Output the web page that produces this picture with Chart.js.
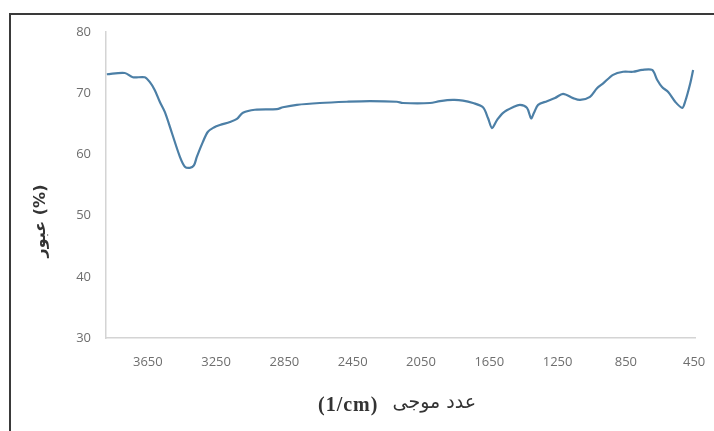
<!DOCTYPE html>
<html>
<head>
<meta charset="utf-8">
<script src="https://cdn.jsdelivr.net/npm/chart.js@4/dist/chart.umd.min.js"></script>
<style>
  html, body { margin: 0; padding: 0; background: #ffffff; }
  #wrap { width: 714px; height: 431px; position: relative; }
</style>
</head>
<body>
<div id="wrap"><canvas id="ftir" width="714" height="431"></canvas></div>
<script>
// FTIR spectrum: wavenumber (1/cm) against transmittance (%)
const wavenumbers = [
  3890, 3785, 3738, 3668, 3638, 3609, 3580, 3550, 3509, 3462,
  3433, 3404, 3380, 3363, 3328, 3298, 3263, 3228, 3169, 3128,
  3093, 3023, 2894, 2859, 2777, 2643, 2484, 2349, 2191, 2156,
  1997, 1939, 1863, 1804, 1745, 1687, 1657, 1634, 1605, 1569,
  1511, 1470, 1429, 1405, 1388, 1364, 1312, 1265, 1218, 1159,
  1118, 1060, 1019, 983, 925, 866, 808, 755, 696, 667,
  638, 602, 561, 520, 503, 473, 456
];
const transmittance = [
  73.1, 73.3, 72.6, 72.6, 71.8, 70.5, 68.6, 66.9, 63.5, 59.6,
  58.0, 57.8, 58.2, 59.6, 62.0, 63.7, 64.4, 64.8, 65.3, 65.8,
  66.8, 67.3, 67.4, 67.7, 68.1, 68.4, 68.6, 68.7, 68.6, 68.4,
  68.4, 68.7, 68.9, 68.8, 68.4, 67.7, 65.9, 64.3, 65.6, 66.8,
  67.7, 68.1, 67.6, 65.9, 66.8, 68.1, 68.7, 69.2, 69.9, 69.2,
  68.9, 69.4, 70.8, 71.6, 73.0, 73.5, 73.5, 73.8, 73.8, 72.2,
  71.0, 70.2, 68.6, 67.6, 68.6, 71.6, 73.8
];
const xTickValues = [3650, 3250, 2850, 2450, 2050, 1650, 1250, 850, 450];
const yTickValues = [30, 40, 50, 60, 70, 80];

const xTitleLatin = '(1/cm)';
const xTitleArabic = 'عدد موجی';
const yTitle = 'عبور (%)';

const points = wavenumbers.map((w, i) => ({ x: w, y: transmittance[i] }));

// Frame lines and axis titles drawn on top of the chart
const decorations = {
  id: 'decorations',
  afterDraw(chart) {
    const ctx = chart.ctx;
    ctx.save();
    // outer frame (top and left edges)
    ctx.strokeStyle = '#3a3a3a';
    ctx.lineWidth = 2;
    ctx.beginPath();
    ctx.moveTo(10, 431);
    ctx.lineTo(10, 14);
    ctx.lineTo(714, 14);
    ctx.stroke();

    // x title
    ctx.fillStyle = '#333333';
    ctx.textBaseline = 'middle';
    ctx.textAlign = 'left';
    ctx.font = 'bold 20px "Liberation Serif"';
    ctx.letterSpacing = '1px';
    ctx.fillText(xTitleLatin, 318, 406);
    ctx.letterSpacing = '0px';
    ctx.textAlign = 'right';
    ctx.font = '19px "DejaVu Sans"';
    ctx.fillText(xTitleArabic, 476, 403);

    // y title
    ctx.translate(41, 221);
    ctx.rotate(-Math.PI / 2);
    ctx.textAlign = 'center';
    ctx.direction = 'ltr';
    ctx.font = 'bold 16px "DejaVu Sans"';
    ctx.fillText(yTitle, 0, 0);
    ctx.restore();
  }
};

const plainNumber = v => String(v);

new Chart(document.getElementById('ftir'), {
  type: 'line',
  data: {
    datasets: [{
      data: points,
      borderColor: '#4c7fa6',
      borderWidth: 2.2,
      pointRadius: 0,
      tension: 0.3,
      fill: false
    }]
  },
  options: {
    responsive: false,
    animation: false,
    layout: { padding: { top: 32, right: 19, left: 0, bottom: 0 } },
    plugins: { legend: { display: false }, tooltip: { enabled: false } },
    scales: {
      x: {
        type: 'linear',
        reverse: true,
        min: 445,
        max: 3895,
        afterBuildTicks(scale) { scale.ticks = xTickValues.map(v => ({ value: v })); },
        afterFit(scale) {
          scale.height = 431 - 338;
          scale.paddingLeft = 0;
          scale.paddingRight = 0;
        },
        grid: { display: true, drawOnChartArea: false, drawTicks: false },
        border: { display: true, color: '#d4d4d4', width: 1.5 },
        ticks: {
          color: '#6e6e6e',
          font: { family: '"Open Sans"', size: 13 },
          padding: 16,
          maxRotation: 0,
          autoSkip: false,
          callback: plainNumber
        }
      },
      y: {
        min: 30,
        max: 80,
        afterBuildTicks(scale) { scale.ticks = yTickValues.map(v => ({ value: v })); },
        afterFit(scale) {
          scale.width = 106;
          scale.paddingTop = 0;
          scale.paddingBottom = 0;
        },
        grid: { display: true, drawOnChartArea: false, drawTicks: false },
        border: { display: true, color: '#d4d4d4', width: 1.5 },
        ticks: {
          color: '#6e6e6e',
          font: { family: '"Open Sans"', size: 13 },
          padding: 15,
          callback: plainNumber
        }
      }
    }
  },
  plugins: [decorations]
});
</script>
</body>
</html>
